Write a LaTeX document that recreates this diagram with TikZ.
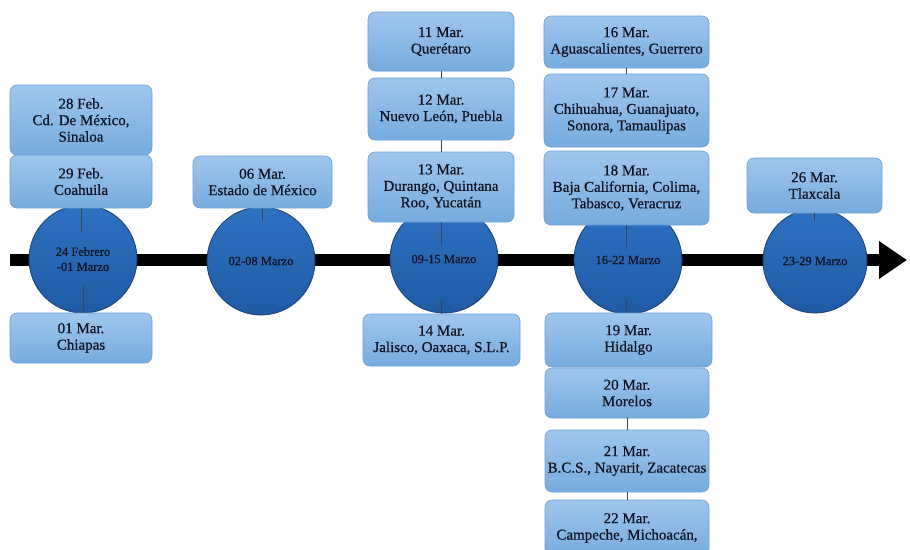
\documentclass[tikz,border=0pt]{standalone}
\usepackage{fontspec}
\setmainfont{Liberation Serif}[FakeBold=0.6]
\usepackage{tikz}
\usetikzlibrary{arrows.meta, calc}

\definecolor{boxtop}{HTML}{9FC6EC}
\definecolor{boxbot}{HTML}{77ABDE}
\definecolor{boxline}{HTML}{6C9FD4}
\definecolor{circtop}{HTML}{2E72C2}
\definecolor{circbot}{HTML}{1F5AA5}
\definecolor{circline}{HTML}{1C3D6E}
\definecolor{linkgray}{HTML}{3C4454}
\definecolor{txt}{HTML}{10131F}

\begin{document}
\begin{tikzpicture}[x=1pt, y=-1pt,
		datebox/.style={draw=boxline, line width=0.6pt, rounded corners=7pt, top color=boxtop, bottom color=boxbot, align=center, text=txt, font=\fontsize{15}{16.5}\selectfont, inner sep=2pt},
		weekdot/.style={circle, draw=circline, line width=0.8pt, top color=circtop, bottom color=circbot, minimum size=108pt, inner sep=0pt, align=center, text=txt, font=\fontsize{12.5}{15}\selectfont},
		link/.style={draw=linkgray, line width=0.8pt},
		timeline/.style={line width=12pt, -{Triangle[length=28pt, width=36pt]}}]
			\clip (0, 0) rectangle (910, 549);
			\coordinate (start) at (10, 260);
			\coordinate (finish) at (907, 260);
			
			\draw[timeline] (start) -- (finish);
			
			\node[weekdot] (c1) at (83, 259) {24 Febrero\\-01 Marzo};
			\node[weekdot] (c2) at (261, 261) {02-08 Marzo};
			\node[weekdot] (c3) at (444, 259) {09-15 Marzo};
			\node[weekdot] (c4) at (628, 260) {16-22 Marzo};
			\node[weekdot, minimum size=104pt] (c5) at (815, 261) {23-29 Marzo};
			
			% first week
			\node[datebox, minimum width=142pt, minimum height=70pt] (feb28) at (81, 120) {28 Feb.\\Cd. De México,\\Sinaloa};
			\node[datebox, minimum width=142pt, minimum height=53pt] (feb29) at (81, 181.5) {29 Feb.\\Coahuila};
			\node[datebox, minimum width=142pt, minimum height=50pt] (mar01) at (81, 338) {01 Mar.\\Chiapas};
			
			\node[datebox, minimum width=139pt, minimum height=52pt] (mar06) at (262.5, 182) {06 Mar.\\Estado de México};
			
			\node[datebox, minimum width=146pt, minimum height=59pt] (mar11) at (441, 41.5) {11 Mar.\\Querétaro};
			\node[datebox, minimum width=146pt, minimum height=62pt] (mar12) at (441, 109) {12 Mar.\\Nuevo León, Puebla};
			\node[datebox, minimum width=146pt, minimum height=70pt] (mar13) at (441, 187) {13 Mar.\\Durango, Quintana\\Roo, Yucatán};
			\node[datebox, minimum width=157pt, minimum height=52pt] (mar14) at (441.5, 340) {14 Mar.\\Jalisco, Oaxaca, S.L.P.};
			
			\node[datebox, minimum width=165pt, minimum height=52pt] (mar16) at (626.5, 42) {16 Mar.\\Aguascalientes, Guerrero};
			\node[datebox, minimum width=165pt, minimum height=73pt] (mar17) at (626.5, 110.5) {17 Mar.\\Chihuahua, Guanajuato,\\Sonora, Tamaulipas};
			\node[datebox, minimum width=165pt, minimum height=74pt] (mar18) at (626.5, 188) {18 Mar.\\Baja California, Colima,\\Tabasco, Veracruz};
			\node[datebox, minimum width=167pt, minimum height=54pt] (mar19) at (628.5, 340) {19 Mar.\\Hidalgo};
			\node[datebox, minimum width=164pt, minimum height=50pt] (mar20) at (627, 393) {20 Mar.\\Morelos};
			\node[datebox, minimum width=164pt, minimum height=62pt] (mar21) at (627, 461) {21 Mar.\\B.C.S., Nayarit, Zacatecas};
			\node[datebox, minimum width=164pt, minimum height=56pt] (mar22) at (627, 528) {22 Mar.\\Campeche, Michoacán,};
			
			\node[datebox, minimum width=135pt, minimum height=55pt] (mar26) at (814.5, 185.5) {26 Mar.\\Tlaxcala};
			
			% connectors
			\draw[link, shorten >=27pt] (feb29.south) -- (feb29.south |- c1.center);
			\draw[link, shorten <=26pt] (c1.center) -- (c1.center |- mar01.north);
			\draw[link, shorten >=40pt] (mar06.south) -- (mar06.south |- c2.center);
			\draw[link] (mar11) -- (mar12);
			\draw[link] (mar12) -- (mar13);
			\draw[link, shorten >=14pt] (mar13.south) -- (mar13.south |- c3.center);
			\draw[link, shorten <=41pt] (mar13.south |- c3.center) -- (mar13.south |- mar14.north);
			\draw[link] (mar16) -- (mar17);
			\draw[link, shorten >=13pt] (mar18.south) -- (mar18.south |- c4.center);
			\draw[link, shorten <=40pt] (mar18.south |- c4.center) -- (mar18.south |- mar19.north);
			\draw[link] (mar20) -- (mar21);
			\draw[link] (mar21) -- (mar22);
			\draw[link, shorten >=40pt] (mar26.south) -- (mar26.south |- c5.center);
		\end{tikzpicture}
\end{document}
